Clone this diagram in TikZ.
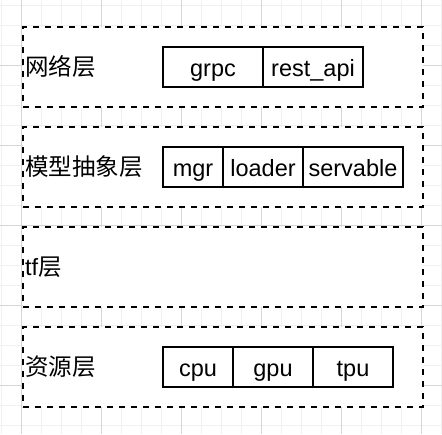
\documentclass[tikz,border=0pt]{standalone}
\usepackage{fontspec}
\setmainfont{Liberation Sans}
\newfontfamily\cjk{Noto Sans CJK SC}
\begin{document}
\begin{tikzpicture}[x=1pt,y=-1pt,
  layerbox/.style={draw=black,fill=white,line width=2pt,dash pattern=on 6pt off 6pt,minimum width=400pt,minimum height=80pt,inner sep=0pt,anchor=north west},
  cell/.style={draw=black,line width=2pt,minimum height=40pt,inner sep=0pt,anchor=north west,text height=19.5pt,text depth=0pt,font=\fontsize{23.5}{28}\selectfont},
  lbl/.style={anchor=west,inner sep=0pt,text height=19.5pt,text depth=0pt,font=\fontsize{23.5}{28}\selectfont}]
\fill[white] (0,0) rectangle (442,434);
\useasboundingbox (0,0) rectangle (442,434);
% grid
\foreach \x in {1,21,...,441} \draw[black!6,line width=1pt] (\x,0) -- (\x,434);
\foreach \y in {5,25,...,425} \draw[black!6,line width=1pt] (0,\y) -- (442,\y);
\foreach \x in {21,101,...,421} \draw[black!16,line width=1pt] (\x,0) -- (\x,434);
\foreach \y in {65,145,...,385} \draw[black!16,line width=1pt] (0,\y) -- (442,\y);
% layers
\node[layerbox] (l1) at (22,26) {};
\node[layerbox] (l2) at (22,126) {};
\node[layerbox] (l3) at (22,226) {};
\node[layerbox] (l4) at (22,326) {};
% labels
\node[lbl] (t1) at (25,66) {\cjk 网络层};
\node[lbl] (t2) at (25,166) {\cjk 模型抽象层};
\node[lbl] (t3) at (25,266) {tf{\cjk 层}};
\node[lbl] (t4) at (25,366) {\cjk 资源层};
% cells
\node[cell,minimum width=100pt] (grpc) at (162,46) {grpc};
\node[cell,minimum width=100pt] (rest) at (262,46) {rest\_api};
\node[cell,minimum width=60pt] (mgr) at (162,146) {mgr};
\node[cell,minimum width=80pt] (loader) at (222,146) {loader};
\node[cell,minimum width=100pt] (servable) at (302,146) {servable};
\node[cell,minimum width=70pt] (cpu) at (162,346) {cpu};
\node[cell,minimum width=80pt] (gpu) at (232,346) {gpu};
\node[cell,minimum width=80pt] (tpu) at (312,346) {tpu};
\end{tikzpicture}
\end{document}
